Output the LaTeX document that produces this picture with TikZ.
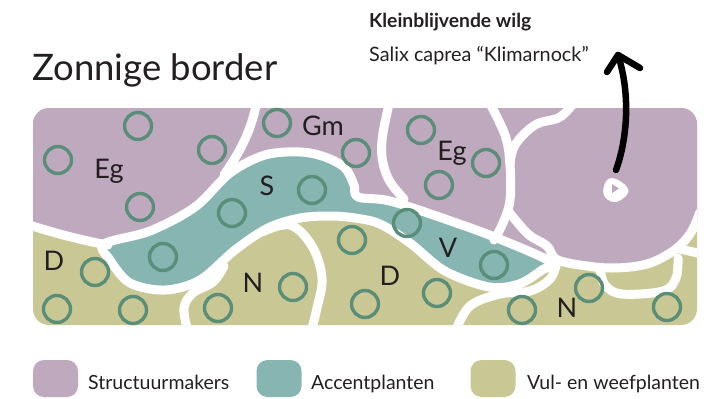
\documentclass[tikz,border=0pt]{standalone}
\usepackage{fontspec}
\setmainfont{Lato}
\definecolor{purp}{HTML}{BFA9BF}
\definecolor{tealc}{HTML}{87B5B1}
\definecolor{oliv}{HTML}{C9C895}
\definecolor{ringc}{HTML}{5A8E78}
\definecolor{ink}{HTML}{231F20}
\tikzset{
  wline/.style={draw=white, line width=9pt, line cap=round, line join=round},
  ring/.style={draw=ringc, line width=3.4pt, circle, minimum size=27pt, inner sep=0pt},
  lab/.style={text=ink, font=\fontsize{27}{30}\selectfont, anchor=base, inner sep=0pt},
  legbox/.style={rounded corners=11pt, minimum width=45pt, minimum height=37pt, inner sep=0pt},
  legtext/.style={text=ink, font=\fontsize{19.5}{22}\selectfont, anchor=base west, inner sep=0pt},
  arrowline/.style={draw=black, line width=6.5pt, line cap=round, line join=round}
}
\begin{document}
\begin{tikzpicture}[x=1pt,y=-1pt]
\useasboundingbox (0,0) rectangle (724,399);
% ---------- bed ----------
\begin{scope}
\clip[rounded corners=16pt] (33,108) rectangle (697,325);
\fill[oliv] (20,95) rectangle (710,340);
% purple (structure) area
\fill[purp] (20,95) -- (710,95) -- (710,216) -- (699,215)
  .. controls (693,232) and (685,242) .. (673,251)
  .. controls (660,261) and (635,268) .. (613,268)
  .. controls (595,268) and (570,266) .. (556,259)
  -- (540,263) -- (500,262) -- (450,245) -- (400,220) -- (350,200)
  -- (300,190) -- (250,205) -- (200,245) -- (150,258) -- (108,245)
  .. controls (80,240) and (50,232) .. (20,222) -- cycle;
% accent band
\fill[tealc] plot[smooth cycle, tension=0.55] coordinates {
  (104,244) (150,231) (195,207) (230,173) (265,155) (300,152) (325,157)
  (345,168) (354,185) (358,197) (390,201) (445,219) (497,238) (551,262)
  (542,270) (519,284) (489,287) (445,271) (410,243) (380,224) (355,218)
  (330,216) (300,218) (268,228) (235,250) (200,280) (165,290) (130,283) (110,260)};
\draw[wline] plot[smooth cycle, tension=0.55] coordinates {
  (104,244) (150,231) (195,207) (230,173) (265,155) (300,152) (325,157)
  (345,168) (354,185) (358,197) (390,201) (445,219) (497,238) (551,262)
  (542,270) (519,284) (489,287) (445,271) (410,243) (380,224) (355,218)
  (330,216) (300,218) (268,228) (235,250) (200,280) (165,290) (130,283) (110,260)};
% dividers
\draw[wline] (20,222) .. controls (50,232) and (80,240) .. (108,245);
\draw[wline] (257,100) .. controls (252,130) and (240,152) .. (224,175);
\draw[wline] plot[smooth, tension=0.6] coordinates {(390,100) (383,133) (382,157) (389,180) (404,199)};
\draw[wline] plot[smooth, tension=0.6] coordinates {(488,100) (505,135) (510,165) (510,200) (503,223) (494,240)};
\draw[wline] plot[smooth, tension=0.6] coordinates {(576,100) (560,117) (535,125) (515,145) (510,165)};
\draw[wline] plot[smooth, tension=0.6] coordinates {(509,212) (528,234) (547,246) (556,259) (580,265) (613,268) (647,264) (673,251) (690,234) (700,212)};
\draw[wline] plot[smooth, tension=0.6] coordinates {(600,268) (605,285) (622,294) (663,291) (676,278) (678,258)};
\draw[wline] (680,249) -- (702,254);
\draw[wline] plot[smooth, tension=0.6] coordinates {(188,332) (184,308) (193,293) (213,282) (224,266)};
\draw[wline] plot[smooth, tension=0.6] coordinates {(262,232) (290,225) (312,246) (322,278) (317,308) (311,332)};
\draw[wline] plot[smooth, tension=0.6] coordinates {(455,332) (470,306) (500,294) (530,291) (550,279) (557,262)};
\end{scope}
% ---------- plants ----------
\foreach \x/\y [count=\i] in {138/126, 58/160, 212/150, 140/207, 277/123, 356/153,
  421/130, 486/163, 439/185, 312/190, 232/213, 163/257, 407/223, 494/265,
  95/272, 57/309, 133/310, 218/308, 293/287, 352/240, 365/304, 437/293,
  522/310, 589/288, 667/307}
  \node[ring] (c\i) at (\x,\y) {};
% ---------- labels ----------
\node[lab] (eg1) at (109,178) {Eg};
\node[lab] (gm) at (323,135) {Gm};
\node[lab] (eg2) at (452,160) {Eg};
\node[lab] (s) at (267,195) {S};
\node[lab] (d1) at (54,270) {D};
\node[lab] (n1) at (253,292) {N};
\node[lab] (d2) at (390,285) {D};
\node[lab] (v) at (448,257) {V};
\node[lab] (n2) at (567,317) {N};
% ---------- title ----------
\node[text=ink, font=\fontsize{36.5}{42}\selectfont, anchor=base west, inner sep=0pt] (title) at (32,80) {Zonnige border};
% ---------- willow marker and arrow ----------
\fill[white] plot[smooth cycle, tension=0.7] coordinates {(604,186) (611,178) (624,184) (628,193) (616,202) (605,197)};
\fill[purp] (612,184) -- (619,188.5) -- (612,193) -- cycle;
\coordinate (tail) at (616,170);
\coordinate (tip) at (618,55);
\draw[arrowline] (tail) .. controls (627,140) and (631,95) .. (tip);
\draw[arrowline] (607,72) -- (tip) -- (640,68);
\node[text=ink, font=\bfseries\fontsize{19.3}{22}\selectfont, anchor=base west, inner sep=0pt] (wname) at (369,27) {Kleinblijvende wilg};
\node[text=ink, font=\fontsize{19.8}{22}\selectfont, anchor=base west, inner sep=0pt] (wlatin) at (369,61) {Salix caprea “Klimarnock”};
% ---------- legend ----------
\node[legbox, fill=purp] (l1) at (55.5,378.5) {};
\node[legtext] (t1) at (88,389) {Structuurmakers};
\node[legbox, fill=tealc] (l2) at (279,378.5) {};
\node[legtext] (t2) at (311,389) {Accentplanten};
\node[legbox, fill=oliv] (l3) at (493,378.5) {};
\node[legtext] (t3) at (527,389) {Vul- en weefplanten};
\end{tikzpicture}
\end{document}
